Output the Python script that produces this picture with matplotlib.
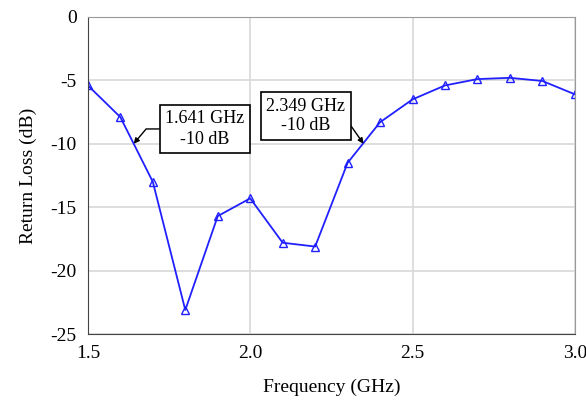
import numpy as np
import matplotlib.pyplot as plt

freq = [1.5, 1.6, 1.7, 1.8, 1.9, 2.0, 2.1, 2.2, 2.3, 2.4, 2.5, 2.6, 2.7, 2.8, 2.9, 3.0]
return_loss = [-5.4, -7.9, -13.0, -23.1, -15.7, -14.3, -17.8, -18.1, -11.5, -8.3,
               -6.5, -5.4, -4.9, -4.8, -5.05, -6.1]
xticks = [1.5, 2.0, 2.5, 3.0]
yticks = [0, -5, -10, -15, -20, -25]

plt.rcParams['font.family'] = ['Liberation Serif', 'DejaVu Serif']
plt.rcParams['axes.unicode_minus'] = False

fig = plt.figure(figsize=(5.86, 4.03), dpi=100)
ax = fig.add_axes([0.150, 0.171, 0.831, 0.787])

ax.plot(freq, return_loss, color='#2020ff', lw=1.3, marker='^', ms=6,
        mfc='none', mec='#2020ff', mew=1.0)

ax.set_xlim(1.5, 3.0)
ax.set_ylim(-25, 0)
ax.set_xticks(xticks)
ax.set_xticklabels(['%.1f' % v for v in xticks])
ax.set_yticks(yticks)
ax.set_yticklabels([str(v) for v in yticks])
ax.grid(True, color='#d8d8d8', lw=1.2)
ax.set_axisbelow(True)
ax.tick_params(length=0, labelsize=14, pad=8)

for s in ['top', 'right']:
    ax.spines[s].set_color('#999999')
for s in ['left', 'bottom']:
    ax.spines[s].set_color('#444444')

ax.set_xlabel('Frequency (GHz)', fontsize=14, labelpad=12)
ax.set_ylabel('Return Loss (dB)', fontsize=14, labelpad=10)

box = dict(boxstyle='square,pad=0.3', fc='white', ec='black', lw=1.2)
ax.annotate('1.641 GHz\n-10 dB', xy=(1.641, -10), xytext=(1.86, -8.83),
            fontsize=13, ha='center', va='center', multialignment='center',
            bbox=box, linespacing=1.3,
            arrowprops=dict(arrowstyle='-|>', color='black', lw=1.0,
                            mutation_scale=8, shrinkA=0, shrinkB=0,
                            relpos=(0, 0.5),
                            connectionstyle='angle,angleA=0,angleB=50,rad=0'))
ax.annotate('2.349 GHz\n-10 dB', xy=(2.349, -10), xytext=(2.171, -7.8),
            fontsize=13, ha='center', va='center', multialignment='center',
            bbox=box, linespacing=1.2,
            arrowprops=dict(arrowstyle='-|>', color='black', lw=1.0,
                            mutation_scale=8, shrinkA=0, shrinkB=0,
                            relpos=(1, 0.45)))

fig.savefig('out.png', dpi=100)
